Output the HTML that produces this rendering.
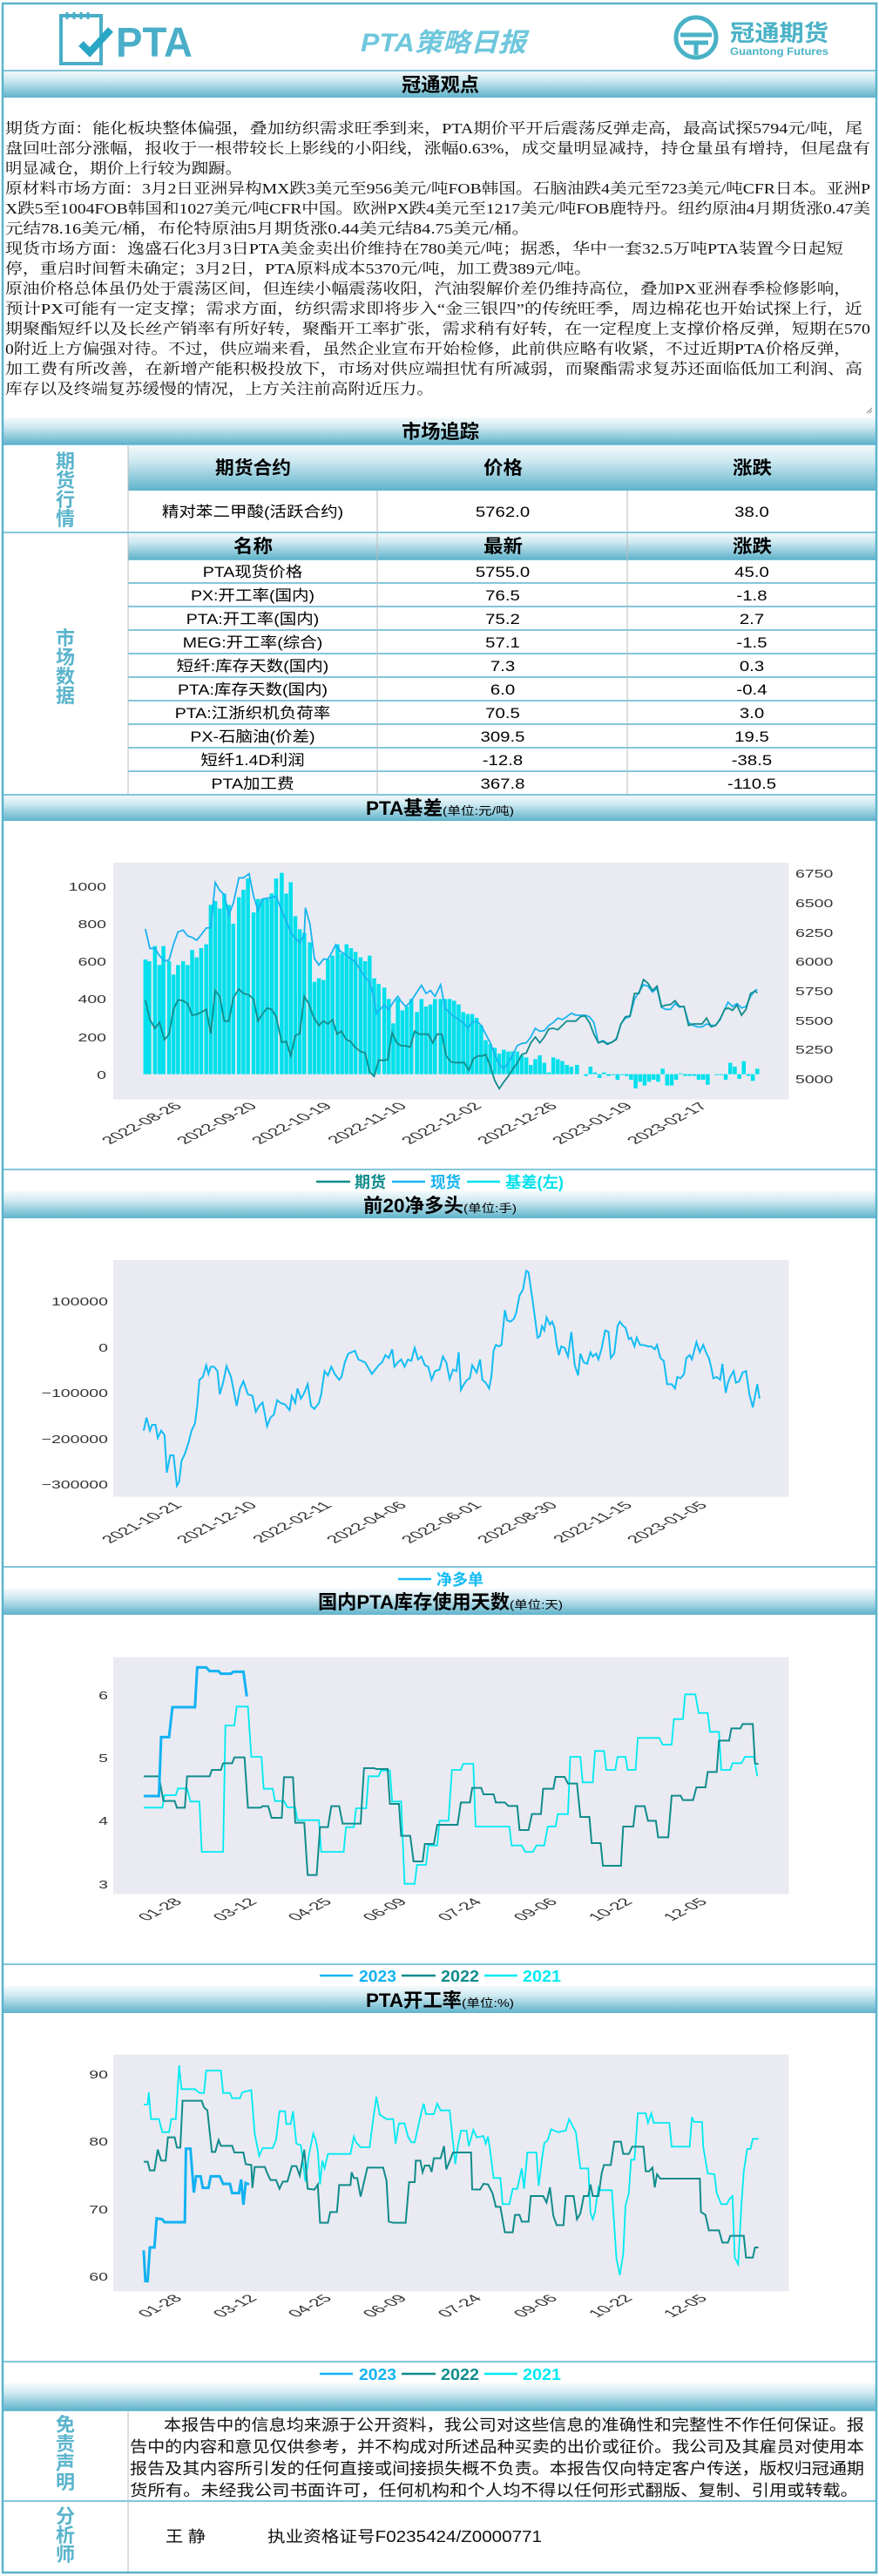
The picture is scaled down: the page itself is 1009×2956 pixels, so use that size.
<!DOCTYPE html>
<html><head><meta charset="utf-8"><style>
html,body{margin:0;padding:0;background:#fff;}
svg{display:block;}
</style></head><body>
<svg width="1009" height="2956" viewBox="0 0 1009 2956" xmlns="http://www.w3.org/2000/svg" font-family="'Liberation Sans','Noto Sans CJK SC',sans-serif">
<defs>
<linearGradient id="bar" x1="0" y1="0" x2="0" y2="1">
<stop offset="0" stop-color="#f4fafc"/><stop offset="0.35" stop-color="#cfe9f1"/><stop offset="1" stop-color="#5fb3cb"/>
</linearGradient>
<linearGradient id="pta" x1="0" y1="0" x2="0" y2="1">
<stop offset="0" stop-color="#4aaec8"/><stop offset="0.75" stop-color="#4aaec8"/><stop offset="1" stop-color="#e8f5f9"/>
</linearGradient>
</defs>
<rect x="0" y="0" width="1009" height="2956" fill="#fff"/>

<!-- HEADER -->
<g>
<rect x="70" y="18" width="46" height="55" fill="none" stroke="#4aaec8" stroke-width="4"/>
<path d="M77 14v8M85 14v8M93 14v8M101 14v8" stroke="#4aaec8" stroke-width="3"/>
<path d="M93 50l10 10 24-26" fill="none" stroke="#28a6c4" stroke-width="8"/>
<text x="133" y="65" font-size="48" font-weight="bold" fill="url(#pta)" textLength="88" lengthAdjust="spacingAndGlyphs">PTA</text>
<text x="414" y="59" font-size="30" font-weight="bold" font-style="italic" fill="#6fc7dc" textLength="190" lengthAdjust="spacingAndGlyphs">PTA策略日报</text>
<circle cx="799" cy="43" r="23" fill="none" stroke="#4ab2c7" stroke-width="5"/>
<path d="M781 40h36M785 49h28M799 49v14" stroke="#4ab2c7" stroke-width="5"/>
<text x="838" y="47" font-size="26" font-weight="bold" fill="#4ab2c7" textLength="113" lengthAdjust="spacingAndGlyphs">冠通期货</text>
<text x="838" y="63" font-size="12" font-weight="bold" fill="#4ab2c7" textLength="113" lengthAdjust="spacingAndGlyphs">Guantong Futures</text>
</g>

<!-- title bars -->
<g fill="url(#bar)">
<rect x="3" y="81" width="1003" height="31"/>
<rect x="3" y="479" width="1003" height="31"/>
<rect x="147" y="510" width="859" height="53"/>
<rect x="147" y="611" width="859" height="31"/>
<rect x="3" y="912" width="1003" height="30"/>
<rect x="3" y="1367" width="1003" height="31"/>
<rect x="3" y="1823" width="1003" height="30"/>
<rect x="3" y="2279" width="1003" height="31"/>
<rect x="3" y="2735" width="1003" height="31"/>
</g>
<g font-weight="bold" fill="#000" font-size="22">
<text x="461" y="105" textLength="89" lengthAdjust="spacingAndGlyphs">冠通观点</text>
<text x="461" y="503" textLength="89" lengthAdjust="spacingAndGlyphs">市场追踪</text>
<text x="420" y="935" textLength="88" lengthAdjust="spacingAndGlyphs">PTA基差</text>
<text x="417" y="1391" textLength="115" lengthAdjust="spacingAndGlyphs">前20净多头</text>
<text x="365" y="1846" textLength="220" lengthAdjust="spacingAndGlyphs">国内PTA库存使用天数</text>
<text x="420" y="2303" textLength="110" lengthAdjust="spacingAndGlyphs">PTA开工率</text>
</g>
<g fill="#000" font-size="13">
<text x="508" y="935" textLength="82" lengthAdjust="spacingAndGlyphs">(单位:元/吨)</text>
<text x="532" y="1391" textLength="61" lengthAdjust="spacingAndGlyphs">(单位:手)</text>
<text x="585" y="1846" textLength="61" lengthAdjust="spacingAndGlyphs">(单位:天)</text>
<text x="530" y="2303" textLength="60" lengthAdjust="spacingAndGlyphs">(单位:%)</text>
</g>

<!-- body text -->
<g font-family="'Liberation Serif','Noto Serif CJK SC',serif" font-size="17" fill="#111" lengthAdjust="spacingAndGlyphs">
<text x="6" y="153" textLength="984" lengthAdjust="spacingAndGlyphs">期货方面：能化板块整体偏强，叠加纺织需求旺季到来，PTA期价平开后震荡反弹走高，最高试探5794元/吨，尾</text>
<text x="6" y="176" textLength="993" lengthAdjust="spacingAndGlyphs">盘回吐部分涨幅，报收于一根带较长上影线的小阳线，涨幅0.63%，成交量明显减持，持仓量虽有增持，但尾盘有</text>
<text x="6" y="199" textLength="272" lengthAdjust="spacingAndGlyphs">明显减仓，期价上行较为踟蹰。</text>
<text x="6" y="222" textLength="993" lengthAdjust="spacingAndGlyphs">原材料市场方面：3月2日亚洲异构MX跌3美元至956美元/吨FOB韩国。石脑油跌4美元至723美元/吨CFR日本。亚洲P</text>
<text x="6" y="245" textLength="993" lengthAdjust="spacingAndGlyphs">X跌5至1004FOB韩国和1027美元/吨CFR中国。欧洲PX跌4美元至1217美元/吨FOB鹿特丹。纽约原油4月期货涨0.47美</text>
<text x="6" y="268" textLength="602" lengthAdjust="spacingAndGlyphs">元结78.16美元/桶，布伦特原油5月期货涨0.44美元结84.75美元/桶。</text>
<text x="6" y="291" textLength="962" lengthAdjust="spacingAndGlyphs">现货市场方面：逸盛石化3月3日PTA美金卖出价维持在780美元/吨；据悉，华中一套32.5万吨PTA装置今日起短</text>
<text x="6" y="314" textLength="673" lengthAdjust="spacingAndGlyphs">停，重启时间暂未确定；3月2日，PTA原料成本5370元/吨，加工费389元/吨。</text>
<text x="6" y="337" textLength="971" lengthAdjust="spacingAndGlyphs">原油价格总体虽仍处于震荡区间，但连续小幅震荡收阳，汽油裂解价差仍维持高位，叠加PX亚洲春季检修影响，</text>
<text x="6" y="360" textLength="984" lengthAdjust="spacingAndGlyphs">预计PX可能有一定支撑；需求方面，纺织需求即将步入“金三银四”的传统旺季，周边棉花也开始试探上行，近</text>
<text x="6" y="383" textLength="993" lengthAdjust="spacingAndGlyphs">期聚酯短纤以及长丝产销率有所好转，聚酯开工率扩张，需求稍有好转，在一定程度上支撑价格反弹，短期在570</text>
<text x="6" y="406" textLength="971" lengthAdjust="spacingAndGlyphs">0附近上方偏强对待。不过，供应端来看，虽然企业宣布开始检修，此前供应略有收紧，不过近期PTA价格反弹，</text>
<text x="6" y="429" textLength="984" lengthAdjust="spacingAndGlyphs">加工费有所改善，在新增产能积极投放下，市场对供应端担忧有所减弱，而聚酯需求复苏还面临低加工利润、高</text>
<text x="6" y="452" textLength="492" lengthAdjust="spacingAndGlyphs">库存以及终端复苏缓慢的情况，上方关注前高附近压力。</text>
</g>
<path d="M995 474l6-6M998 474l3-3" stroke="#888" stroke-width="1"/>

<!-- TABLE lines -->
<g stroke="#5ab4d0" stroke-width="1.5" fill="none">
<line x1="3" y1="510" x2="1006" y2="510"/>
<line x1="3" y1="611" x2="1006" y2="611"/>
<line x1="147" y1="642" x2="1006" y2="642"/>
<line x1="147" y1="669" x2="1006" y2="669"/>
<line x1="147" y1="696" x2="1006" y2="696"/>
<line x1="147" y1="723" x2="1006" y2="723"/>
<line x1="147" y1="750" x2="1006" y2="750"/>
<line x1="147" y1="777" x2="1006" y2="777"/>
<line x1="147" y1="804" x2="1006" y2="804"/>
<line x1="147" y1="831" x2="1006" y2="831"/>
<line x1="147" y1="858" x2="1006" y2="858"/>
<line x1="147" y1="885" x2="1006" y2="885"/>
<line x1="3" y1="912" x2="1006" y2="912"/>
</g>
<g stroke="#bbb" stroke-width="1">
<line x1="147" y1="510" x2="147" y2="912"/>
<line x1="433" y1="563" x2="433" y2="912"/>
<line x1="720" y1="563" x2="720" y2="912"/>
</g>
<g font-weight="bold" font-size="22" fill="#5ab4cc" text-anchor="middle">
<text x="75" y="537">期</text><text x="75" y="559">货</text><text x="75" y="581">行</text><text x="75" y="603">情</text>
<text x="75" y="740">市</text><text x="75" y="762">场</text><text x="75" y="784">数</text><text x="75" y="806">据</text>
<text x="75" y="2790">免</text><text x="75" y="2812">责</text><text x="75" y="2834">声</text><text x="75" y="2856">明</text>
<text x="75" y="2895">分</text><text x="75" y="2917">析</text><text x="75" y="2939">师</text>
</g>
<g font-weight="bold" font-size="21" fill="#000">
<text x="247" y="544" textLength="87" lengthAdjust="spacingAndGlyphs">期货合约</text>
<text x="555" y="544" textLength="45" lengthAdjust="spacingAndGlyphs">价格</text>
<text x="841" y="544" textLength="45" lengthAdjust="spacingAndGlyphs">涨跌</text>
<text x="268" y="634" textLength="45" lengthAdjust="spacingAndGlyphs">名称</text>
<text x="555" y="634" textLength="45" lengthAdjust="spacingAndGlyphs">最新</text>
<text x="841" y="634" textLength="45" lengthAdjust="spacingAndGlyphs">涨跌</text>
</g>
<g font-size="17" fill="#000" text-anchor="middle">
<g transform="translate(290,593) scale(1.15,1)"><text>精对苯二甲酸(活跃合约)</text></g>
<g transform="translate(577,593) scale(1.2,1)"><text>5762.0</text></g>
<g transform="translate(863,593) scale(1.2,1)"><text>38.0</text></g>
<g transform="translate(290,662) scale(1.15,1)"><text>PTA现货价格</text></g>
<g transform="translate(577,662) scale(1.2,1)"><text>5755.0</text></g>
<g transform="translate(863,662) scale(1.2,1)"><text>45.0</text></g>
<g transform="translate(290,689) scale(1.15,1)"><text>PX:开工率(国内)</text></g>
<g transform="translate(577,689) scale(1.2,1)"><text>76.5</text></g>
<g transform="translate(863,689) scale(1.2,1)"><text>-1.8</text></g>
<g transform="translate(290,716) scale(1.15,1)"><text>PTA:开工率(国内)</text></g>
<g transform="translate(577,716) scale(1.2,1)"><text>75.2</text></g>
<g transform="translate(863,716) scale(1.2,1)"><text>2.7</text></g>
<g transform="translate(290,743) scale(1.15,1)"><text>MEG:开工率(综合)</text></g>
<g transform="translate(577,743) scale(1.2,1)"><text>57.1</text></g>
<g transform="translate(863,743) scale(1.2,1)"><text>-1.5</text></g>
<g transform="translate(290,770) scale(1.15,1)"><text>短纤:库存天数(国内)</text></g>
<g transform="translate(577,770) scale(1.2,1)"><text>7.3</text></g>
<g transform="translate(863,770) scale(1.2,1)"><text>0.3</text></g>
<g transform="translate(290,797) scale(1.15,1)"><text>PTA:库存天数(国内)</text></g>
<g transform="translate(577,797) scale(1.2,1)"><text>6.0</text></g>
<g transform="translate(863,797) scale(1.2,1)"><text>-0.4</text></g>
<g transform="translate(290,824) scale(1.15,1)"><text>PTA:江浙织机负荷率</text></g>
<g transform="translate(577,824) scale(1.2,1)"><text>70.5</text></g>
<g transform="translate(863,824) scale(1.2,1)"><text>3.0</text></g>
<g transform="translate(290,851) scale(1.15,1)"><text>PX-石脑油(价差)</text></g>
<g transform="translate(577,851) scale(1.2,1)"><text>309.5</text></g>
<g transform="translate(863,851) scale(1.2,1)"><text>19.5</text></g>
<g transform="translate(290,878) scale(1.15,1)"><text>短纤1.4D利润</text></g>
<g transform="translate(577,878) scale(1.2,1)"><text>-12.8</text></g>
<g transform="translate(863,878) scale(1.2,1)"><text>-38.5</text></g>
<g transform="translate(290,905) scale(1.15,1)"><text>PTA加工费</text></g>
<g transform="translate(577,905) scale(1.2,1)"><text>367.8</text></g>
<g transform="translate(863,905) scale(1.2,1)"><text>-110.5</text></g>
</g>

<!-- section separator lines -->
<g stroke="#5ab4d0" stroke-width="1.5">
<line x1="3" y1="1342" x2="1006" y2="1342"/>
<line x1="3" y1="1798" x2="1006" y2="1798"/>
<line x1="3" y1="2254" x2="1006" y2="2254"/>
<line x1="3" y1="2710" x2="1006" y2="2710"/>
<line x1="3" y1="2870" x2="1006" y2="2870"/>
<line x1="3" y1="2766" x2="1006" y2="2766"/>
</g>
<line x1="147" y1="2766" x2="147" y2="2952" stroke="#bbb"/>

<!-- CHART 1 -->
<g transform="translate(0,910) scale(0.6468,0.33333)">
<rect x="201" y="240" width="1199" height="815" fill="#eaeaf2"/>
<path fill="#00e0ec" d="M254.5,968V573h7V968ZM261.5,968V579h7V968ZM271.5,968V527h7V968ZM279.5,968V592h7V968ZM286.5,968V527h7V968ZM296.5,968V579h7V968ZM304.5,968V625h7V968ZM312.5,968V592h7V968ZM321.5,968V579h7V968ZM329.5,968V592h7V968ZM337.5,968V540h7V968ZM345.5,968V566h7V968ZM353.5,968V534h7V968ZM362.5,968V521h7V968ZM370.5,968V385h7V968ZM378.5,968V372h7V968ZM386.5,968V398h7V968ZM394.5,968V346h7V968ZM402.5,968V385h7V968ZM410.5,968V450h7V968ZM420.5,968V359h7V968ZM428.5,968V333h7V968ZM436.5,968V294h7V968ZM446.5,968V411h7V968ZM454.5,968V365h7V968ZM462.5,968V365h7V968ZM470.5,968V365h7V968ZM478.5,968V346h7V968ZM486.5,968V294h7V968ZM496.5,968V275h7V968ZM504.5,968V346h7V968ZM512.5,968V307h7V968ZM520.5,968V424h7V968ZM528.5,968V469h7V968ZM536.5,968V482h7V968ZM546.5,968V514h7V968ZM554.5,968V650h7V968ZM562.5,968V638h7V968ZM570.5,968V644h7V968ZM578.5,968V573h7V968ZM586.5,968V560h7V968ZM595.5,968V521h7V968ZM603.5,968V553h7V968ZM611.5,968V521h7V968ZM619.5,968V534h7V968ZM627.5,968V547h7V968ZM636.5,968V566h7V968ZM644.5,968V579h7V968ZM652.5,968V560h7V968ZM660.5,968V638h7V968ZM668.5,968V657h7V968ZM678.5,968V670h7V968ZM686.5,968V709h7V968ZM694.5,968V793h7V968ZM702.5,968V709h7V968ZM710.5,968V748h7V968ZM718.5,968V735h7V968ZM726.5,968V709h7V968ZM736.5,968V754h7V968ZM744.5,968V709h7V968ZM752.5,968V735h7V968ZM760.5,968V728h7V968ZM768.5,968V709h7V968ZM778.5,968V709h7V968ZM786.5,968V709h7V968ZM794.5,968V709h7V968ZM802.5,968V715h7V968ZM810.5,968V728h7V968ZM818.5,968V754h7V968ZM826.5,968V761h7V968ZM834.5,968V761h7V968ZM842.5,968V774h7V968ZM850.5,968V800h7V968ZM858.5,968V851h7V968ZM866.5,968V864h7V968ZM874.5,968V877h7V968ZM882.5,968V897h7V968ZM890.5,968V884h7V968ZM898.5,968V890h7V968ZM906.5,968V890h7V968ZM914.5,968V890h7V968ZM922.5,968V903h7V968ZM930.5,968V910h7V968ZM938.5,968V936h7V968ZM946.5,968V916h7V968ZM954.5,968V903h7V968ZM962.5,968V929h7V968ZM970.5,968V962h7V968ZM978.5,968V910h7V968ZM986.5,968V916h7V968ZM994.5,968V923h7V968ZM1002.5,968V936h7V968ZM1010.5,968V942h7V968ZM1020.5,968V936h7V968ZM1036.5,968V974h7V968ZM1044.5,968V942h7V968ZM1052.5,968V962h7V968ZM1060.5,968V981h7V968ZM1068.5,968V962h7V968ZM1076.5,968V974h7V968ZM1084.5,968V971h7V968ZM1092.5,968V987h7V968ZM1100.5,968V971h7V968ZM1108.5,968V974h7V968ZM1116.5,968V987h7V968ZM1124.5,968V1017h7V968ZM1132.5,968V994h7V968ZM1140.5,968V1007h7V968ZM1148.5,968V994h7V968ZM1156.5,968V987h7V968ZM1164.5,968V994h7V968ZM1172.5,968V949h7V968ZM1180.5,968V1007h7V968ZM1188.5,968V1007h7V968ZM1196.5,968V987h7V968ZM1204.5,968V965h7V968ZM1212.5,968V974h7V968ZM1220.5,968V974h7V968ZM1228.5,968V974h7V968ZM1236.5,968V987h7V968ZM1244.5,968V987h7V968ZM1252.5,968V1004h7V968ZM1268.5,968V971h7V968ZM1276.5,968V971h7V968ZM1284.5,968V987h7V968ZM1292.5,968V929h7V968ZM1300.5,968V942h7V968ZM1308.5,968V984h7V968ZM1316.5,968V923h7V968ZM1324.5,968V974h7V968ZM1332.5,968V991h7V968ZM1340.5,968V949h7V968Z"/>
<polyline fill="none" stroke="#18b4f0" stroke-width="1.8" vector-effect="non-scaling-stroke" points="258,468 266,535 275,535 283,560 292,578 300,575 308,520 316,478 325,472 333,492 341,497 349,507 357,488 366,465 374,463 382,308 390,335 398,350 406,420 414,380 424,292 432,292 442,278 450,355 458,405 466,365 474,362 482,360 490,355 500,405 508,440 516,480 524,500 532,515 540,490 542,395 550,450 558,570 566,592 574,572 582,572 590,545 596,522 604,545 612,555 620,568 630,580 640,610 648,635 656,650 664,705 668,760 676,742 682,730 690,745 698,720 706,700 712,718 720,735 728,720 736,697 748,662 756,690 764,680 772,700 782,660 790,740 798,757 806,770 814,780 822,790 830,810 838,790 846,785 854,800 862,830 870,860 878,900 886,935 894,948 902,930 910,900 918,870 926,862 934,860 942,840 950,810 958,820 966,818 974,800 982,790 990,775 998,780 1006,770 1014,758 1022,765 1030,765 1038,765 1046,770 1054,790 1062,860 1070,852 1078,862 1086,858 1094,845 1102,795 1110,775 1118,770 1126,710 1134,685 1142,660 1150,665 1158,685 1166,672 1174,738 1182,745 1190,745 1198,725 1206,737 1214,735 1222,790 1230,800 1238,805 1246,805 1254,795 1262,800 1270,800 1278,780 1286,745 1292,720 1300,735 1308,725 1316,740 1324,735 1332,700 1340,680 1344,676"/>
<polyline fill="none" stroke="#108c8c" stroke-width="1.8" vector-effect="non-scaling-stroke" points="258,713 266,780 275,810 283,790 292,850 300,830 308,745 316,712 325,715 333,725 341,765 349,762 357,755 366,745 374,828 382,680 390,700 398,785 406,785 414,705 424,675 432,690 442,695 450,710 458,785 466,760 474,740 482,745 490,770 500,858 508,855 516,905 524,835 532,828 540,700 548,725 556,770 566,800 574,785 582,795 590,780 598,830 606,820 614,848 622,855 630,875 640,890 648,895 656,960 664,975 672,920 680,920 688,918 696,825 704,860 712,870 720,870 728,875 736,820 744,830 752,830 760,830 768,860 776,830 784,830 792,905 800,925 808,928 816,928 824,928 832,955 840,915 848,905 856,905 862,900 870,940 878,990 886,1018 894,995 902,975 910,950 918,930 926,900 934,895 942,860 950,840 958,860 966,840 974,812 982,810 990,815 998,800 1006,785 1014,785 1022,785 1030,770 1038,767 1046,790 1054,830 1062,860 1070,855 1078,865 1086,858 1094,848 1102,795 1110,770 1118,768 1126,690 1134,690 1142,642 1150,655 1158,680 1166,665 1174,735 1182,730 1190,728 1198,715 1206,735 1214,735 1222,800 1230,795 1238,795 1246,795 1254,775 1262,805 1270,800 1278,778 1286,745 1292,740 1300,748 1308,730 1316,765 1324,745 1332,690 1340,682 1344,688"/>
</g>
<g font-size="13" fill="#333" text-anchor="end">
<text transform="translate(122,1022) scale(1.5,1)">1000</text>
<text transform="translate(122,1065) scale(1.5,1)">800</text>
<text transform="translate(122,1108) scale(1.5,1)">600</text>
<text transform="translate(122,1151) scale(1.5,1)">400</text>
<text transform="translate(122,1195) scale(1.5,1)">200</text>
<text transform="translate(122,1238) scale(1.5,1)">0</text>
</g>
<g font-size="13" fill="#333">
<text transform="translate(913,1007) scale(1.5,1)">6750</text>
<text transform="translate(913,1041) scale(1.5,1)">6500</text>
<text transform="translate(913,1075) scale(1.5,1)">6250</text>
<text transform="translate(913,1108) scale(1.5,1)">6000</text>
<text transform="translate(913,1142) scale(1.5,1)">5750</text>
<text transform="translate(913,1176) scale(1.5,1)">5500</text>
<text transform="translate(913,1209) scale(1.5,1)">5250</text>
<text transform="translate(913,1243) scale(1.5,1)">5000</text>
</g>
<g font-size="12" fill="#333" text-anchor="end">
<text transform="translate(210,1270) scale(1.93,1) rotate(-45)">2022-08-26</text>
<text transform="translate(296,1270) scale(1.93,1) rotate(-45)">2022-09-20</text>
<text transform="translate(382,1270) scale(1.93,1) rotate(-45)">2022-10-19</text>
<text transform="translate(468,1270) scale(1.93,1) rotate(-45)">2022-11-10</text>
<text transform="translate(554,1270) scale(1.93,1) rotate(-45)">2022-12-02</text>
<text transform="translate(641,1270) scale(1.93,1) rotate(-45)">2022-12-26</text>
<text transform="translate(727,1270) scale(1.93,1) rotate(-45)">2023-01-19</text>
<text transform="translate(813,1270) scale(1.93,1) rotate(-45)">2023-02-17</text>
</g>
<g font-weight="bold" font-size="18">
<line x1="363" y1="1356" x2="402" y2="1356" stroke="#108c8c" stroke-width="2.5"/>
<text x="407" y="1363" fill="#108c8c" textLength="36" lengthAdjust="spacingAndGlyphs">期货</text>
<line x1="450" y1="1356" x2="488" y2="1356" stroke="#18b4f0" stroke-width="2.5"/>
<text x="494" y="1363" fill="#18b4f0" textLength="35" lengthAdjust="spacingAndGlyphs">现货</text>
<line x1="536" y1="1356" x2="574" y2="1356" stroke="#00e0ec" stroke-width="2.5"/>
<text x="580" y="1363" fill="#00e0ec" textLength="67" lengthAdjust="spacingAndGlyphs">基差(左)</text>
</g>

<!-- CHART 2 -->
<g transform="translate(0,1380) scale(0.6468,0.33333)">
<rect x="201" y="198" width="1199" height="815" fill="#eaeaf2"/>
<polyline fill="none" stroke="#14bcf4" stroke-width="2" vector-effect="non-scaling-stroke" points="255,785 260,740 266,785 270,765 276,765 280,810 286,785 292,800 296,930 302,870 308,870 314,975 318,960 322,890 328,865 334,830 340,785 346,760 350,700 354,610 360,600 366,560 370,590 374,565 380,565 386,580 390,660 396,620 402,563 410,600 414,640 420,700 426,640 432,615 440,660 448,665 454,720 460,700 466,688 474,770 480,740 486,730 492,680 498,690 506,695 514,715 518,665 524,690 528,640 534,675 540,655 546,625 552,700 558,710 566,690 570,660 576,580 582,595 588,565 594,590 602,610 606,600 612,550 618,520 624,515 630,510 636,540 642,545 648,550 654,570 660,590 666,575 672,560 678,550 684,525 690,535 696,505 700,565 706,550 712,540 718,565 724,540 730,545 736,500 742,540 748,530 754,560 760,565 766,610 772,580 780,575 786,530 792,550 798,608 804,575 810,580 814,515 818,645 822,630 828,612 834,604 838,560 846,585 852,540 856,610 862,620 868,640 872,600 876,510 880,490 886,495 890,490 896,370 900,405 906,410 912,400 916,380 922,320 928,300 934,235 938,240 944,320 950,405 954,465 958,460 962,425 966,440 970,395 976,420 980,410 984,430 988,490 992,525 996,495 1002,500 1008,530 1014,445 1020,560 1026,595 1030,520 1036,550 1042,555 1048,515 1052,530 1058,520 1062,540 1068,500 1074,440 1080,445 1084,535 1090,520 1096,425 1100,410 1106,425 1110,430 1116,470 1120,465 1126,495 1130,465 1136,490 1142,490 1150,495 1156,495 1162,505 1166,490 1172,535 1178,545 1184,625 1192,625 1198,640 1202,600 1208,605 1214,590 1218,535 1224,525 1228,540 1236,480 1242,515 1248,490 1254,520 1258,535 1262,565 1266,605 1272,600 1278,610 1282,555 1288,655 1292,620 1296,600 1302,580 1306,620 1312,615 1318,585 1324,580 1330,660 1336,705 1340,665 1344,625 1348,675"/>
</g>
<g font-size="13" fill="#333" text-anchor="end">
<text transform="translate(124,1498) scale(1.5,1)">100000</text>
<text transform="translate(124,1551) scale(1.5,1)">0</text>
<text transform="translate(124,1603) scale(1.5,1)">−100000</text>
<text transform="translate(124,1656) scale(1.5,1)">−200000</text>
<text transform="translate(124,1708) scale(1.5,1)">−300000</text>
</g>
<g font-size="12" fill="#333" text-anchor="end">
<text transform="translate(210,1728) scale(1.93,1) rotate(-45)">2021-10-21</text>
<text transform="translate(296,1728) scale(1.93,1) rotate(-45)">2021-12-10</text>
<text transform="translate(382,1728) scale(1.93,1) rotate(-45)">2022-02-11</text>
<text transform="translate(468,1728) scale(1.93,1) rotate(-45)">2022-04-06</text>
<text transform="translate(554,1728) scale(1.93,1) rotate(-45)">2022-06-01</text>
<text transform="translate(641,1728) scale(1.93,1) rotate(-45)">2022-08-30</text>
<text transform="translate(727,1728) scale(1.93,1) rotate(-45)">2022-11-15</text>
<text transform="translate(813,1728) scale(1.93,1) rotate(-45)">2023-01-05</text>
</g>
<g font-weight="bold" font-size="18">
<line x1="457" y1="1812" x2="495" y2="1812" stroke="#14bcf4" stroke-width="2.5"/>
<text x="501" y="1819" fill="#14bcf4" textLength="54" lengthAdjust="spacingAndGlyphs">净多单</text>
</g>

<!-- CHART 3 -->
<g transform="translate(0,1850) scale(0.6468,0.33333)">
<rect x="201" y="155" width="1199" height="815" fill="#eaeaf2"/>
<polyline fill="none" stroke="#00eaf2" stroke-width="1.8" vector-effect="non-scaling-stroke" points="255,673 288,673 292,630 312,630 316,607 332,607 338,652 354,652 358,825 396,825 400,390 416,390 420,325 440,325 446,498 464,498 468,608 484,608 488,650 504,650 510,672 524,672 528,716 566,716 570,825 610,825 614,740 628,740 632,675 650,675 654,565 672,565 676,545 692,545 696,652 712,652 718,935 736,935 740,870 756,870 760,803 776,803 780,718 796,718 802,543 818,543 822,522 840,522 844,738 904,738 908,803 926,803 932,825 946,825 952,803 966,803 972,738 986,738 990,695 1008,695 1012,498 1030,498 1034,586 1052,586 1056,478 1072,478 1076,543 1092,543 1096,498 1110,498 1114,543 1128,543 1132,433 1170,433 1176,456 1192,456 1196,368 1212,368 1216,283 1234,283 1240,347 1256,347 1260,412 1276,412 1280,543 1296,543 1300,520 1316,520 1322,498 1338,498 1344,565"/>
<polyline fill="none" stroke="#108c8c" stroke-width="2" vector-effect="non-scaling-stroke" points="255,565 282,565 290,650 310,650 314,673 328,673 332,565 372,565 376,543 392,543 396,520 412,520 416,500 434,500 440,673 462,673 466,668 476,668 482,708 500,708 504,568 520,568 524,725 540,725 546,905 562,905 568,740 582,740 588,668 602,668 608,728 640,728 646,537 664,537 668,540 688,540 692,660 708,660 712,770 728,770 734,858 750,858 754,798 770,798 776,732 812,732 818,655 834,655 838,605 854,605 858,627 876,627 880,655 896,655 902,667 918,667 922,750 938,750 944,695 960,695 964,608 982,608 986,567 1002,567 1008,590 1024,590 1030,705 1046,705 1050,795 1066,795 1070,873 1102,873 1106,738 1124,738 1128,668 1144,668 1150,718 1164,718 1168,775 1186,775 1192,632 1208,632 1212,647 1230,647 1236,603 1252,603 1256,550 1272,550 1276,442 1294,442 1298,400 1314,400 1318,385 1336,385 1340,520 1346,523"/>
<polyline fill="none" stroke="#12b2f2" stroke-width="3" vector-effect="non-scaling-stroke" points="255,633 282,633 286,430 300,430 306,327 346,327 350,190 366,190 372,203 388,203 392,212 410,212 414,205 432,205 438,290"/>
</g>
<g font-size="13" fill="#333" text-anchor="end">
<text transform="translate(124,1950) scale(1.5,1)">6</text>
<text transform="translate(124,2022) scale(1.5,1)">5</text>
<text transform="translate(124,2094) scale(1.5,1)">4</text>
<text transform="translate(124,2167) scale(1.5,1)">3</text>
</g>
<g font-size="12" fill="#333" text-anchor="end">
<text transform="translate(210,2183) scale(1.93,1) rotate(-45)">01-28</text>
<text transform="translate(296,2183) scale(1.93,1) rotate(-45)">03-12</text>
<text transform="translate(382,2183) scale(1.93,1) rotate(-45)">04-25</text>
<text transform="translate(468,2183) scale(1.93,1) rotate(-45)">06-09</text>
<text transform="translate(554,2183) scale(1.93,1) rotate(-45)">07-24</text>
<text transform="translate(641,2183) scale(1.93,1) rotate(-45)">09-06</text>
<text transform="translate(727,2183) scale(1.93,1) rotate(-45)">10-22</text>
<text transform="translate(813,2183) scale(1.93,1) rotate(-45)">12-05</text>
</g>
<g font-weight="bold" font-size="18">
<line x1="367" y1="2267" x2="405" y2="2267" stroke="#12b2f2" stroke-width="2.5"/>
<text x="412" y="2274" fill="#12b2f2" textLength="43" lengthAdjust="spacingAndGlyphs">2023</text>
<line x1="461" y1="2267" x2="500" y2="2267" stroke="#108c8c" stroke-width="2.5"/>
<text x="506" y="2274" fill="#108c8c" textLength="44" lengthAdjust="spacingAndGlyphs">2022</text>
<line x1="556" y1="2267" x2="594" y2="2267" stroke="#00eaf2" stroke-width="2.5"/>
<text x="600" y="2274" fill="#00eaf2" textLength="44" lengthAdjust="spacingAndGlyphs">2021</text>
</g>

<!-- CHART 4 -->
<g transform="translate(0,2320) scale(0.6468,0.33333)">
<rect x="201" y="113" width="1199" height="815" fill="#eaeaf2"/>
<polyline fill="none" stroke="#00eaf2" stroke-width="1.8" vector-effect="non-scaling-stroke" points="255,285 262,285 264,243 268,335 282,335 288,380 300,380 304,335 312,335 318,150 322,232 346,232 354,245 362,245 366,168 392,168 396,245 408,245 412,263 426,263 430,243 446,235 452,385 460,462 466,435 484,435 490,405 496,308 506,308 508,352 516,352 520,308 526,420 534,425 542,550 548,462 556,385 560,405 564,445 568,560 572,478 576,505 582,455 622,455 628,395 632,415 640,432 656,432 662,340 668,258 674,320 686,335 698,335 702,420 708,350 718,350 724,395 730,415 736,415 748,310 752,282 756,318 770,318 776,282 782,305 798,305 804,415 808,490 812,435 818,375 828,375 832,428 840,372 846,398 858,393 862,420 866,395 870,445 876,538 888,538 892,628 904,628 910,575 918,575 926,505 930,575 936,450 952,450 956,565 962,470 966,418 972,408 978,370 990,380 1004,375 1010,335 1016,358 1022,380 1030,505 1044,505 1048,658 1052,680 1056,655 1062,570 1066,580 1086,580 1094,815 1100,872 1106,800 1110,635 1116,590 1120,475 1126,475 1132,315 1146,315 1150,348 1156,315 1160,348 1188,348 1192,430 1224,430 1228,328 1232,345 1246,345 1248,430 1256,522 1268,525 1272,590 1280,628 1290,628 1294,612 1300,600 1304,812 1310,835 1316,625 1320,515 1326,438 1332,438 1336,403 1346,403"/>
<polyline fill="none" stroke="#108c8c" stroke-width="2" vector-effect="non-scaling-stroke" points="255,482 262,482 266,512 274,512 280,440 286,478 294,478 298,398 310,398 314,433 320,433 324,272 358,272 362,295 368,305 376,448 382,448 388,407 392,427 412,427 416,450 432,450 436,490 446,493 448,572 452,500 470,500 474,520 480,545 490,545 496,575 502,550 510,550 518,497 526,497 532,530 540,440 546,575 558,578 564,560 568,692 582,692 586,655 598,655 602,562 622,562 624,518 628,538 634,538 640,602 652,502 680,502 686,548 690,688 698,692 720,692 726,552 736,552 738,478 746,478 750,518 754,495 762,495 766,517 770,470 782,470 788,428 792,508 798,480 804,450 836,450 838,577 852,578 858,558 866,560 874,590 880,637 888,637 896,725 910,725 914,665 922,665 926,688 938,688 942,600 964,600 970,622 976,570 982,668 988,700 1000,700 1004,600 1018,600 1024,680 1030,660 1036,600 1044,600 1048,560 1052,600 1062,600 1068,520 1072,493 1084,493 1090,413 1102,413 1106,455 1116,455 1122,430 1142,430 1146,515 1152,515 1158,502 1162,570 1166,525 1172,540 1242,540 1244,655 1252,665 1258,718 1276,718 1282,760 1292,760 1296,737 1320,737 1324,812 1336,812 1340,777 1346,777"/>
<polyline fill="none" stroke="#12b2f2" stroke-width="3" vector-effect="non-scaling-stroke" points="255,787 258,893 262,893 266,777 274,777 278,677 288,680 292,690 328,690 330,437 338,437 344,588 348,532 356,532 360,572 370,572 374,532 390,532 396,558 408,558 412,590 424,590 428,543 432,630 436,555 442,560"/>
</g>
<g font-size="13" fill="#333" text-anchor="end">
<text transform="translate(124,2385) scale(1.5,1)">90</text>
<text transform="translate(124,2462) scale(1.5,1)">80</text>
<text transform="translate(124,2540) scale(1.5,1)">70</text>
<text transform="translate(124,2617) scale(1.5,1)">60</text>
</g>
<g font-size="12" fill="#333" text-anchor="end">
<text transform="translate(210,2638) scale(1.93,1) rotate(-45)">01-28</text>
<text transform="translate(296,2638) scale(1.93,1) rotate(-45)">03-12</text>
<text transform="translate(382,2638) scale(1.93,1) rotate(-45)">04-25</text>
<text transform="translate(468,2638) scale(1.93,1) rotate(-45)">06-09</text>
<text transform="translate(554,2638) scale(1.93,1) rotate(-45)">07-24</text>
<text transform="translate(641,2638) scale(1.93,1) rotate(-45)">09-06</text>
<text transform="translate(727,2638) scale(1.93,1) rotate(-45)">10-22</text>
<text transform="translate(813,2638) scale(1.93,1) rotate(-45)">12-05</text>
</g>
<g font-weight="bold" font-size="18">
<line x1="367" y1="2724" x2="405" y2="2724" stroke="#12b2f2" stroke-width="2.5"/>
<text x="412" y="2731" fill="#12b2f2" textLength="43" lengthAdjust="spacingAndGlyphs">2023</text>
<line x1="461" y1="2724" x2="500" y2="2724" stroke="#108c8c" stroke-width="2.5"/>
<text x="506" y="2731" fill="#108c8c" textLength="44" lengthAdjust="spacingAndGlyphs">2022</text>
<line x1="556" y1="2724" x2="594" y2="2724" stroke="#00eaf2" stroke-width="2.5"/>
<text x="600" y="2731" fill="#00eaf2" textLength="44" lengthAdjust="spacingAndGlyphs">2021</text>
</g>

<!-- disclaimer -->
<g font-size="18" fill="#111">
<text x="188" y="2789" textLength="804" lengthAdjust="spacingAndGlyphs">本报告中的信息均来源于公开资料，我公司对这些信息的准确性和完整性不作任何保证。报</text>
<text x="149" y="2814" textLength="843" lengthAdjust="spacingAndGlyphs">告中的内容和意见仅供参考，并不构成对所述品种买卖的出价或征价。我公司及其雇员对使用本</text>
<text x="149" y="2839" textLength="843" lengthAdjust="spacingAndGlyphs">报告及其内容所引发的任何直接或间接损失概不负责。本报告仅向特定客户传送，版权归冠通期</text>
<text x="149" y="2864" textLength="836" lengthAdjust="spacingAndGlyphs">货所有。未经我公司书面许可，任何机构和个人均不得以任何形式翻版、复制、引用或转载。</text>
<text x="190" y="2917" textLength="46" lengthAdjust="spacingAndGlyphs">王 静</text>
<text x="307" y="2917" textLength="315" lengthAdjust="spacingAndGlyphs">执业资格证号F0235424/Z0000771</text>
</g>

<!-- outer border -->
<rect x="3" y="4" width="1003" height="2948" fill="none" stroke="#5ab4cc" stroke-width="2.5"/>
<line x1="3" y1="81" x2="1006" y2="81" stroke="#5ab4cc" stroke-width="1.5"/>
</svg>
</body></html>
